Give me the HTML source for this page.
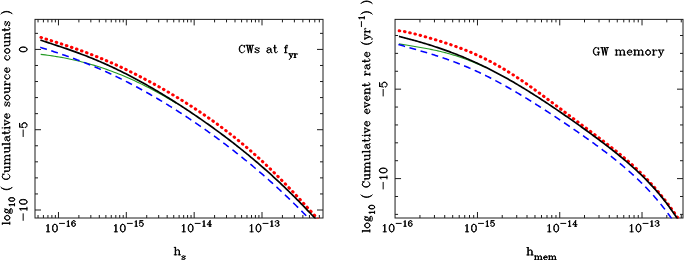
<!DOCTYPE html>
<html><head><meta charset="utf-8"><title>plot</title>
<style>html,body{margin:0;padding:0;background:#fff;font-family:"Liberation Serif",serif;}svg{display:block}</style></head>
<body>
<svg width="684" height="260" viewBox="0 0 684 260">
<rect width="684" height="260" fill="#fff"/>
<defs><clipPath id="cl"><rect x="35.00" y="19.38" width="288.00" height="199.12"/></clipPath><clipPath id="cr"><rect x="395.05" y="19.38" width="287.95" height="199.12"/></clipPath></defs>
<path d="M58.46 218.00v-6M58.46 19.38v6M126.31 218.00v-6M126.31 19.38v6M194.16 218.00v-6M194.16 19.38v6M262.01 218.00v-6M262.01 19.38v6M38.04 218.00v-3M38.04 19.38v3M43.41 218.00v-3M43.41 19.38v3M47.95 218.00v-3M47.95 19.38v3M51.88 218.00v-3M51.88 19.38v3M55.36 218.00v-3M55.36 19.38v3M78.88 218.00v-3M78.88 19.38v3M90.83 218.00v-3M90.83 19.38v3M99.31 218.00v-3M99.31 19.38v3M105.89 218.00v-3M105.89 19.38v3M111.26 218.00v-3M111.26 19.38v3M115.80 218.00v-3M115.80 19.38v3M119.73 218.00v-3M119.73 19.38v3M123.21 218.00v-3M123.21 19.38v3M146.73 218.00v-3M146.73 19.38v3M158.68 218.00v-3M158.68 19.38v3M167.16 218.00v-3M167.16 19.38v3M173.74 218.00v-3M173.74 19.38v3M179.11 218.00v-3M179.11 19.38v3M183.65 218.00v-3M183.65 19.38v3M187.58 218.00v-3M187.58 19.38v3M191.06 218.00v-3M191.06 19.38v3M214.58 218.00v-3M214.58 19.38v3M226.53 218.00v-3M226.53 19.38v3M235.01 218.00v-3M235.01 19.38v3M241.59 218.00v-3M241.59 19.38v3M246.96 218.00v-3M246.96 19.38v3M251.50 218.00v-3M251.50 19.38v3M255.43 218.00v-3M255.43 19.38v3M258.91 218.00v-3M258.91 19.38v3M282.43 218.00v-3M282.43 19.38v3M294.38 218.00v-3M294.38 19.38v3M302.86 218.00v-3M302.86 19.38v3M309.44 218.00v-3M309.44 19.38v3M314.81 218.00v-3M314.81 19.38v3M319.35 218.00v-3M319.35 19.38v3M35.00 49.42h6M323.00 49.42h-6M35.00 129.71h6M323.00 129.71h-6M35.00 210.00h6M323.00 210.00h-6M35.00 33.36h3M323.00 33.36h-3M35.00 65.48h3M323.00 65.48h-3M35.00 81.54h3M323.00 81.54h-3M35.00 97.59h3M323.00 97.59h-3M35.00 113.65h3M323.00 113.65h-3M35.00 145.77h3M323.00 145.77h-3M35.00 161.83h3M323.00 161.83h-3M35.00 177.88h3M323.00 177.88h-3M35.00 193.94h3M323.00 193.94h-3" stroke="#1c1c1c" stroke-width="1" fill="none"/>
<rect x="35.00" y="19.38" width="288.00" height="198.62" fill="none" stroke="#1c1c1c" stroke-width="1.0"/>
<path d="M477.46 218.00v-6M477.46 19.38v6M559.74 218.00v-6M559.74 19.38v6M642.02 218.00v-6M642.02 19.38v6M419.95 218.00v-3M419.95 19.38v3M434.44 218.00v-3M434.44 19.38v3M444.72 218.00v-3M444.72 19.38v3M452.69 218.00v-3M452.69 19.38v3M459.21 218.00v-3M459.21 19.38v3M464.71 218.00v-3M464.71 19.38v3M469.49 218.00v-3M469.49 19.38v3M473.70 218.00v-3M473.70 19.38v3M502.23 218.00v-3M502.23 19.38v3M516.72 218.00v-3M516.72 19.38v3M527.00 218.00v-3M527.00 19.38v3M534.97 218.00v-3M534.97 19.38v3M541.49 218.00v-3M541.49 19.38v3M546.99 218.00v-3M546.99 19.38v3M551.77 218.00v-3M551.77 19.38v3M555.98 218.00v-3M555.98 19.38v3M584.51 218.00v-3M584.51 19.38v3M599.00 218.00v-3M599.00 19.38v3M609.28 218.00v-3M609.28 19.38v3M617.25 218.00v-3M617.25 19.38v3M623.77 218.00v-3M623.77 19.38v3M629.27 218.00v-3M629.27 19.38v3M634.05 218.00v-3M634.05 19.38v3M638.26 218.00v-3M638.26 19.38v3M666.79 218.00v-3M666.79 19.38v3M681.28 218.00v-3M681.28 19.38v3M395.05 89.16h6M683.00 89.16h-6M395.05 178.60h6M683.00 178.60h-6M395.05 35.50h3M683.00 35.50h-3M395.05 53.38h3M683.00 53.38h-3M395.05 71.27h3M683.00 71.27h-3M395.05 107.05h3M683.00 107.05h-3M395.05 124.94h3M683.00 124.94h-3M395.05 142.82h3M683.00 142.82h-3M395.05 160.71h3M683.00 160.71h-3M395.05 196.49h3M683.00 196.49h-3M395.05 214.38h3M683.00 214.38h-3" stroke="#1c1c1c" stroke-width="1" fill="none"/>
<rect x="395.05" y="19.38" width="287.95" height="198.62" fill="none" stroke="#1c1c1c" stroke-width="1.0"/>
<g clip-path="url(#cl)" fill="none">
<path d="M40.70 54.37L42.99 54.64L45.29 54.92L47.58 55.21L49.87 55.53L52.17 55.87L54.46 56.22L56.75 56.59L59.05 56.98L61.34 57.39L63.63 57.82L65.93 58.26L68.22 58.73L70.51 59.21L72.81 59.71L75.10 60.23L77.39 60.77L79.68 61.33L81.98 61.91L84.27 62.51L86.56 63.13L88.86 63.77L91.15 64.43L93.44 65.11L95.74 65.81L98.03 66.53L100.32 67.27L102.62 68.03L104.91 68.81L107.20 69.61L109.50 70.43L111.79 71.28L114.08 72.14L116.38 73.02L118.67 73.93L120.96 74.86L123.26 75.80L125.55 76.77L127.84 77.76L130.14 78.77L132.43 79.80L134.72 80.85L137.02 81.93L139.31 83.02L141.60 84.13L143.89 85.26L146.19 86.42L148.48 87.59L150.77 88.79L153.07 90.00L155.36 91.23L157.65 92.48L159.95 93.75L162.24 95.04L164.53 96.35L166.83 97.68L169.12 99.02L171.41 100.38L173.71 101.76L176.00 103.16" stroke="#239a23" stroke-width="1.1"/>
<path d="M40.26 47.34L41.16 47.62L42.06 47.91L42.97 48.19L43.87 48.47L44.77 48.75L45.67 49.04L46.57 49.32L47.48 49.61L48.38 49.90L49.28 50.18L50.18 50.47L51.09 50.76L51.99 51.06L52.89 51.35L53.79 51.64L54.69 51.94L55.60 52.23L56.50 52.53L57.40 52.83L58.30 53.13L59.20 53.44L60.11 53.74L61.01 54.05L61.91 54.35L62.81 54.66L63.72 54.97L64.62 55.29L65.52 55.60L66.42 55.92L67.32 56.23L68.23 56.55L69.13 56.87L70.03 57.20L70.93 57.52L71.83 57.85L72.74 58.18L73.64 58.51L74.54 58.84L75.44 59.17L76.35 59.51L77.25 59.85L78.15 60.19L79.05 60.53L79.95 60.88L80.86 61.22L81.76 61.57L82.66 61.92L83.56 62.28L84.46 62.63L85.37 62.99L86.27 63.35L87.17 63.71L88.07 64.07L88.98 64.44L89.88 64.81L90.78 65.18L91.68 65.55L92.58 65.93L93.49 66.30L94.39 66.68L95.29 67.06L96.19 67.45L97.09 67.83L98.00 68.22L98.90 68.61L99.80 69.00L100.70 69.40L101.61 69.80L102.51 70.20L103.41 70.60L104.31 71.00L105.21 71.41L106.12 71.81L107.02 72.23L107.92 72.64L108.82 73.05L109.72 73.47L110.63 73.89L111.53 74.31L112.43 74.74L113.33 75.16L114.24 75.59L115.14 76.02L116.04 76.46L116.94 76.89L117.84 77.33L118.75 77.77L119.65 78.21L120.55 78.65L121.45 79.10L122.35 79.55L123.26 80.00L124.16 80.45L125.06 80.91L125.96 81.37L126.87 81.83L127.77 82.29L128.67 82.75L129.57 83.22L130.47 83.69L131.38 84.16L132.28 84.63L133.18 85.10L134.08 85.58L134.98 86.06L135.89 86.54L136.79 87.03L137.69 87.51L138.59 88.00L139.50 88.49L140.40 88.98L141.30 89.48L142.20 89.97L143.10 90.47L144.01 90.97L144.91 91.47L145.81 91.98L146.71 92.48L147.61 92.99L148.52 93.50L149.42 94.02L150.32 94.53L151.22 95.05L152.13 95.57L153.03 96.09L153.93 96.61L154.83 97.14L155.73 97.66L156.64 98.19L157.54 98.72L158.44 99.26L159.34 99.79L160.24 100.33L161.15 100.87L162.05 101.41L162.95 101.95L163.85 102.50L164.76 103.05L165.66 103.60L166.56 104.15L167.46 104.70L168.36 105.26L169.27 105.81L170.17 106.37L171.07 106.93L171.97 107.50L172.87 108.06L173.78 108.63L174.68 109.20L175.58 109.77L176.48 110.34L177.39 110.91L178.29 111.49L179.19 112.07L180.09 112.65L180.99 113.23L181.90 113.82L182.80 114.40L183.70 114.99L184.60 115.58L185.50 116.18L186.41 116.77L187.31 117.37L188.21 117.96L189.11 118.56L190.02 119.17L190.92 119.77L191.82 120.38L192.72 120.98L193.62 121.59L194.53 122.21L195.43 122.82L196.33 123.44L197.23 124.05L198.13 124.67L199.04 125.29L199.94 125.92L200.84 126.54L201.74 127.17L202.65 127.80L203.55 128.43L204.45 129.07L205.35 129.70L206.25 130.34L207.16 130.98L208.06 131.62L208.96 132.26L209.86 132.91L210.76 133.56L211.67 134.21L212.57 134.86L213.47 135.51L214.37 136.17L215.28 136.83L216.18 137.49L217.08 138.15L217.98 138.82L218.88 139.48L219.79 140.15L220.69 140.82L221.59 141.49L222.49 142.17L223.39 142.85L224.30 143.53L225.20 144.21L226.10 144.89L227.00 145.58L227.91 146.27L228.81 146.96L229.71 147.65L230.61 148.34L231.51 149.04L232.42 149.74L233.32 150.44L234.22 151.15L235.12 151.85L236.02 152.56L236.93 153.27L237.83 153.99L238.73 154.70L239.63 155.42L240.54 156.14L241.44 156.86L242.34 157.59L243.24 158.31L244.14 159.04L245.05 159.78L245.95 160.51L246.85 161.25L247.75 161.99L248.65 162.73L249.56 163.47L250.46 164.22L251.36 164.97L252.26 165.72L253.17 166.48L254.07 167.24L254.97 168.00L255.87 168.76L256.77 169.52L257.68 170.29L258.58 171.06L259.48 171.83L260.38 172.61L261.28 173.39L262.19 174.17L263.09 174.95L263.99 175.74L264.89 176.53L265.80 177.32L266.70 178.11L267.60 178.91L268.50 179.71L269.40 180.51L270.31 181.32L271.21 182.13L272.11 182.94L273.01 183.75L273.91 184.57L274.82 185.39L275.72 186.21L276.62 187.04L277.52 187.87L278.43 188.70L279.33 189.53L280.23 190.37L281.13 191.21L282.03 192.05L282.94 192.90L283.84 193.75L284.74 194.60L285.64 195.46L286.54 196.32L287.45 197.18L288.35 198.04L289.25 198.91L290.15 199.78L291.06 200.65L291.96 201.53L292.86 202.41L293.76 203.29L294.66 204.18L295.57 205.07L296.47 205.96L297.37 206.86L298.27 207.75L299.17 208.66L300.08 209.56L300.98 210.47L301.88 211.38L302.78 212.29L303.69 213.21L304.59 214.13L305.49 215.05L306.39 215.98L307.29 216.91L308.20 217.84L309.10 218.78L310.00 219.72" stroke="#0000ff" stroke-width="1.55" stroke-dasharray="6.89 4.64"/>
<path d="M40.94 37.44L41.87 37.74L42.80 38.04L43.72 38.33L44.65 38.62L45.58 38.92L46.50 39.21L47.43 39.50L48.36 39.80L49.28 40.09L50.21 40.38L51.14 40.67L52.06 40.97L52.99 41.26L53.92 41.55L54.84 41.85L55.77 42.14L56.70 42.44L57.62 42.73L58.55 43.03L59.48 43.33L60.40 43.62L61.33 43.92L62.26 44.23L63.18 44.53L64.11 44.83L65.04 45.14L65.96 45.44L66.89 45.75L67.82 46.06L68.74 46.37L69.67 46.68L70.60 46.99L71.52 47.31L72.45 47.63L73.38 47.94L74.30 48.26L75.23 48.59L76.16 48.91L77.08 49.24L78.01 49.56L78.94 49.89L79.86 50.23L80.79 50.56L81.72 50.90L82.64 51.23L83.57 51.57L84.49 51.92L85.42 52.26L86.35 52.61L87.27 52.96L88.20 53.31L89.13 53.66L90.05 54.02L90.98 54.37L91.91 54.73L92.83 55.10L93.76 55.46L94.69 55.83L95.61 56.20L96.54 56.57L97.47 56.94L98.39 57.32L99.32 57.70L100.25 58.08L101.17 58.46L102.10 58.84L103.03 59.23L103.95 59.62L104.88 60.01L105.81 60.41L106.73 60.80L107.66 61.20L108.59 61.60L109.51 62.01L110.44 62.41L111.37 62.82L112.29 63.23L113.22 63.65L114.15 64.06L115.07 64.48L116.00 64.90L116.93 65.32L117.85 65.75L118.78 66.17L119.71 66.60L120.63 67.03L121.56 67.47L122.49 67.90L123.41 68.34L124.34 68.78L125.27 69.22L126.19 69.67L127.12 70.11L128.05 70.56L128.97 71.01L129.90 71.47L130.83 71.92L131.75 72.38L132.68 72.84L133.61 73.30L134.53 73.77L135.46 74.23L136.38 74.70L137.31 75.17L138.24 75.65L139.16 76.12L140.09 76.60L141.02 77.08L141.94 77.56L142.87 78.04L143.80 78.53L144.72 79.02L145.65 79.51L146.58 80.00L147.50 80.49L148.43 80.99L149.36 81.49L150.28 81.99L151.21 82.49L152.14 82.99L153.06 83.50L153.99 84.01L154.92 84.52L155.84 85.03L156.77 85.55L157.70 86.07L158.62 86.58L159.55 87.11L160.48 87.63L161.40 88.15L162.33 88.68L163.26 89.21L164.18 89.74L165.11 90.28L166.04 90.81L166.96 91.35L167.89 91.89L168.82 92.43L169.74 92.98L170.67 93.53L171.60 94.07L172.52 94.63L173.45 95.18L174.38 95.73L175.30 96.29L176.23 96.85L177.16 97.41L178.08 97.98L179.01 98.55L179.94 99.12L180.86 99.69L181.79 100.26L182.72 100.84L183.64 101.41L184.57 102.00L185.50 102.58L186.42 103.16L187.35 103.75L188.27 104.34L189.20 104.93L190.13 105.53L191.05 106.13L191.98 106.73L192.91 107.33L193.83 107.93L194.76 108.54L195.69 109.15L196.61 109.77L197.54 110.38L198.47 111.00L199.39 111.62L200.32 112.24L201.25 112.87L202.17 113.50L203.10 114.13L204.03 114.76L204.95 115.40L205.88 116.04L206.81 116.68L207.73 117.33L208.66 117.98L209.59 118.63L210.51 119.29L211.44 119.94L212.37 120.60L213.29 121.27L214.22 121.93L215.15 122.60L216.07 123.28L217.00 123.95L217.93 124.63L218.85 125.31L219.78 126.00L220.71 126.69L221.63 127.38L222.56 128.08L223.49 128.78L224.41 129.48L225.34 130.18L226.27 130.89L227.19 131.61L228.12 132.32L229.05 133.04L229.97 133.76L230.90 134.49L231.83 135.22L232.75 135.95L233.68 136.69L234.61 137.43L235.53 138.18L236.46 138.92L237.39 139.68L238.31 140.43L239.24 141.19L240.16 141.95L241.09 142.72L242.02 143.49L242.94 144.27L243.87 145.05L244.80 145.83L245.72 146.61L246.65 147.40L247.58 148.20L248.50 149.00L249.43 149.80L250.36 150.60L251.28 151.41L252.21 152.23L253.14 153.05L254.06 153.87L254.99 154.69L255.92 155.52L256.84 156.36L257.77 157.19L258.70 158.04L259.62 158.88L260.55 159.73L261.48 160.59L262.40 161.45L263.33 162.31L264.26 163.17L265.18 164.04L266.11 164.92L267.04 165.80L267.96 166.68L268.89 167.57L269.82 168.46L270.74 169.35L271.67 170.25L272.60 171.15L273.52 172.06L274.45 172.97L275.38 173.88L276.30 174.80L277.23 175.72L278.16 176.64L279.08 177.57L280.01 178.51L280.94 179.44L281.86 180.38L282.79 181.33L283.72 182.27L284.64 183.22L285.57 184.18L286.50 185.14L287.42 186.10L288.35 187.06L289.28 188.03L290.20 189.00L291.13 189.97L292.05 190.95L292.98 191.93L293.91 192.91L294.83 193.90L295.76 194.89L296.69 195.88L297.61 196.87L298.54 197.87L299.47 198.86L300.39 199.86L301.32 200.87L302.25 201.87L303.17 202.88L304.10 203.89L305.03 204.90L305.95 205.91L306.88 206.92L307.81 207.94L308.73 208.96L309.66 209.97L310.59 210.99L311.51 212.01L312.44 213.03L313.37 214.05L314.29 215.08L315.22 216.10L316.15 217.12L317.07 218.14L318.00 219.16" stroke="#ff0000" stroke-width="3.0" stroke-linecap="round" stroke-dasharray="0.6 4.735"/>
<path d="M40.40 40.07L41.79 40.54L43.19 41.00L44.58 41.47L45.98 41.93L47.37 42.39L48.77 42.85L50.16 43.31L51.56 43.77L52.95 44.23L54.35 44.69L55.74 45.15L57.14 45.61L58.53 46.08L59.93 46.54L61.32 47.01L62.72 47.48L64.11 47.96L65.51 48.43L66.90 48.91L68.30 49.40L69.69 49.89L71.09 50.38L72.48 50.87L73.88 51.37L75.27 51.87L76.67 52.38L78.06 52.89L79.46 53.41L80.85 53.93L82.25 54.46L83.64 54.99L85.04 55.53L86.43 56.07L87.83 56.62L89.22 57.17L90.62 57.73L92.01 58.30L93.41 58.87L94.80 59.44L96.20 60.03L97.59 60.61L98.99 61.21L100.38 61.81L101.78 62.41L103.17 63.02L104.57 63.64L105.96 64.26L107.36 64.89L108.75 65.53L110.15 66.17L111.54 66.81L112.94 67.47L114.33 68.13L115.73 68.79L117.12 69.46L118.52 70.14L119.91 70.82L121.31 71.51L122.70 72.20L124.10 72.90L125.49 73.60L126.89 74.31L128.28 75.03L129.68 75.75L131.07 76.48L132.47 77.21L133.86 77.95L135.26 78.70L136.65 79.45L138.05 80.20L139.44 80.96L140.84 81.73L142.23 82.50L143.63 83.27L145.02 84.05L146.42 84.84L147.81 85.63L149.21 86.43L150.60 87.23L152.00 88.04L153.39 88.85L154.79 89.66L156.18 90.48L157.58 91.31L158.97 92.14L160.37 92.98L161.76 93.82L163.16 94.66L164.55 95.51L165.95 96.36L167.34 97.22L168.74 98.08L170.13 98.95L171.53 99.82L172.92 100.70L174.32 101.58L175.71 102.47L177.11 103.36L178.50 104.25L179.90 105.15L181.29 106.05L182.69 106.96L184.08 107.87L185.48 108.79L186.87 109.71L188.27 110.64L189.66 111.56L191.06 112.50L192.45 113.44L193.85 114.38L195.24 115.33L196.64 116.28L198.03 117.24L199.43 118.20L200.82 119.16L202.22 120.13L203.61 121.11L205.01 122.08L206.40 123.07L207.80 124.06L209.19 125.05L210.59 126.05L211.98 127.05L213.38 128.06L214.77 129.07L216.17 130.09L217.56 131.11L218.96 132.14L220.35 133.17L221.75 134.20L223.14 135.25L224.54 136.29L225.93 137.35L227.33 138.41L228.72 139.47L230.12 140.54L231.51 141.61L232.91 142.69L234.30 143.78L235.70 144.87L237.09 145.97L238.49 147.07L239.88 148.18L241.28 149.30L242.67 150.42L244.07 151.55L245.46 152.68L246.86 153.82L248.25 154.96L249.65 156.12L251.04 157.28L252.44 158.44L253.83 159.61L255.23 160.79L256.62 161.98L258.02 163.17L259.41 164.37L260.81 165.58L262.20 166.79L263.60 168.01L264.99 169.24L266.39 170.48L267.78 171.72L269.18 172.97L270.57 174.22L271.97 175.49L273.36 176.76L274.76 178.04L276.15 179.33L277.55 180.62L278.94 181.92L280.34 183.23L281.73 184.55L283.13 185.88L284.52 187.21L285.92 188.55L287.31 189.90L288.71 191.25L290.10 192.62L291.50 193.99L292.89 195.37L294.29 196.76L295.68 198.15L297.08 199.55L298.47 200.96L299.87 202.38L301.26 203.81L302.66 205.24L304.05 206.68L305.45 208.13L306.84 209.58L308.24 211.04L309.63 212.51L311.03 213.99L312.42 215.47L313.82 216.96L315.21 218.46L316.61 219.96L318.00 221.47" stroke="#000" stroke-width="1.7"/>
</g>
<g clip-path="url(#cr)" fill="none">
<path d="M398.96 43.85L400.40 44.10L401.84 44.34L403.28 44.59L404.73 44.83L406.17 45.07L407.61 45.31L409.05 45.54L410.49 45.78L411.93 46.02L413.37 46.25L414.81 46.49L416.26 46.73L417.70 46.97L419.14 47.22L420.58 47.46L422.02 47.72L423.46 47.97L424.90 48.23L426.35 48.50L427.79 48.77L429.23 49.05L430.67 49.34L432.11 49.63L433.55 49.93L434.99 50.24L436.44 50.56L437.88 50.88L439.32 51.22L440.76 51.56L442.20 51.92L443.64 52.28L445.08 52.65L446.52 53.04L447.97 53.43L449.41 53.84L450.85 54.25L452.29 54.68L453.73 55.12L455.17 55.57L456.61 56.03L458.06 56.50L459.50 56.98L460.94 57.47L462.38 57.98L463.82 58.49L465.26 59.02L466.70 59.55L468.15 60.10L469.59 60.66L471.03 61.23L472.47 61.81L473.91 62.40L475.35 63.00L476.79 63.62L478.23 64.24L479.68 64.87L481.12 65.51L482.56 66.16L484.00 66.83" stroke="#239a23" stroke-width="1.1"/>
<path d="M398.42 44.43L399.35 44.72L400.27 45.00L401.20 45.28L402.12 45.56L403.05 45.84L403.97 46.12L404.90 46.39L405.82 46.66L406.75 46.93L407.67 47.20L408.60 47.47L409.52 47.74L410.45 48.01L411.37 48.27L412.30 48.54L413.22 48.81L414.15 49.07L415.07 49.34L416.00 49.60L416.92 49.87L417.85 50.13L418.77 50.40L419.70 50.67L420.62 50.94L421.55 51.21L422.47 51.47L423.40 51.75L424.32 52.02L425.25 52.29L426.17 52.56L427.10 52.84L428.02 53.12L428.95 53.40L429.87 53.68L430.80 53.96L431.72 54.24L432.65 54.53L433.57 54.82L434.50 55.11L435.42 55.40L436.35 55.69L437.27 55.99L438.20 56.29L439.12 56.59L440.05 56.89L440.97 57.20L441.90 57.51L442.82 57.82L443.75 58.13L444.67 58.45L445.60 58.77L446.52 59.09L447.45 59.41L448.37 59.74L449.30 60.07L450.22 60.41L451.15 60.74L452.07 61.08L453.00 61.42L453.92 61.77L454.85 62.12L455.77 62.47L456.70 62.82L457.62 63.18L458.55 63.54L459.47 63.91L460.40 64.28L461.32 64.65L462.25 65.02L463.17 65.40L464.10 65.78L465.02 66.16L465.95 66.55L466.87 66.94L467.80 67.33L468.72 67.73L469.65 68.13L470.57 68.53L471.50 68.94L472.42 69.35L473.35 69.76L474.27 70.18L475.20 70.60L476.12 71.02L477.05 71.45L477.97 71.88L478.90 72.31L479.82 72.75L480.75 73.19L481.67 73.63L482.60 74.08L483.52 74.52L484.45 74.98L485.37 75.43L486.30 75.89L487.22 76.35L488.15 76.81L489.07 77.28L490.00 77.75L490.92 78.23L491.85 78.70L492.77 79.18L493.70 79.66L494.62 80.15L495.55 80.64L496.47 81.13L497.40 81.62L498.32 82.12L499.25 82.61L500.17 83.12L501.10 83.62L502.02 84.13L502.95 84.64L503.87 85.15L504.80 85.66L505.72 86.18L506.65 86.70L507.57 87.22L508.50 87.75L509.42 88.28L510.35 88.81L511.27 89.34L512.20 89.87L513.12 90.41L514.05 90.95L514.97 91.49L515.90 92.03L516.82 92.58L517.75 93.13L518.67 93.68L519.60 94.23L520.52 94.78L521.45 95.34L522.37 95.89L523.30 96.45L524.22 97.02L525.15 97.58L526.07 98.15L527.00 98.71L527.92 99.28L528.85 99.85L529.77 100.42L530.70 101.00L531.62 101.57L532.55 102.15L533.47 102.73L534.40 103.31L535.32 103.89L536.25 104.48L537.17 105.06L538.10 105.65L539.02 106.24L539.95 106.83L540.87 107.42L541.80 108.01L542.72 108.61L543.65 109.20L544.57 109.80L545.50 110.40L546.42 111.00L547.35 111.60L548.27 112.20L549.20 112.80L550.12 113.41L551.05 114.01L551.97 114.62L552.90 115.23L553.82 115.84L554.75 116.45L555.67 117.06L556.60 117.67L557.52 118.29L558.45 118.90L559.37 119.52L560.30 120.14L561.22 120.76L562.15 121.37L563.07 122.00L564.00 122.62L564.92 123.24L565.85 123.87L566.77 124.49L567.70 125.12L568.62 125.75L569.55 126.38L570.47 127.01L571.40 127.64L572.32 128.27L573.25 128.91L574.17 129.54L575.10 130.18L576.02 130.82L576.95 131.46L577.87 132.10L578.80 132.74L579.72 133.38L580.65 134.03L581.57 134.68L582.50 135.32L583.42 135.97L584.35 136.62L585.27 137.28L586.20 137.93L587.12 138.59L588.05 139.25L588.97 139.91L589.90 140.57L590.82 141.23L591.75 141.90L592.67 142.57L593.60 143.24L594.52 143.91L595.45 144.58L596.37 145.26L597.30 145.94L598.22 146.62L599.15 147.30L600.07 147.99L601.00 148.68L601.92 149.37L602.85 150.06L603.77 150.76L604.70 151.46L605.62 152.16L606.55 152.87L607.47 153.58L608.40 154.29L609.32 155.01L610.25 155.73L611.17 156.45L612.10 157.18L613.02 157.91L613.95 158.64L614.87 159.38L615.80 160.12L616.72 160.87L617.65 161.62L618.57 162.38L619.50 163.14L620.42 163.90L621.35 164.67L622.27 165.44L623.20 166.22L624.12 167.01L625.05 167.80L625.97 168.59L626.90 169.40L627.82 170.20L628.75 171.02L629.67 171.84L630.60 172.66L631.52 173.49L632.45 174.33L633.37 175.18L634.30 176.03L635.22 176.89L636.15 177.76L637.07 178.63L638.00 179.51L638.92 180.40L639.85 181.30L640.77 182.20L641.70 183.12L642.62 184.04L643.55 184.97L644.47 185.91L645.40 186.86L646.32 187.82L647.25 188.79L648.17 189.77L649.10 190.75L650.02 191.75L650.95 192.76L651.87 193.78L652.80 194.81L653.72 195.85L654.65 196.91L655.57 197.97L656.50 199.05L657.42 200.14L658.35 201.24L659.27 202.35L660.20 203.48L661.12 204.62L662.05 205.77L662.97 206.94L663.90 208.12L664.82 209.31L665.75 210.52L666.67 211.75L667.60 212.99L668.52 214.24L669.45 215.51L670.37 216.80L671.30 218.10L672.22 219.42L673.15 220.76L674.07 222.11L675.00 223.48" stroke="#0000ff" stroke-width="1.55" stroke-dasharray="6.89 4.63"/>
<path d="M399.20 30.78L400.15 30.91L401.09 31.05L402.03 31.20L402.97 31.36L403.92 31.53L404.86 31.70L405.80 31.89L406.74 32.08L407.68 32.27L408.63 32.47L409.57 32.68L410.51 32.90L411.45 33.11L412.40 33.34L413.34 33.57L414.28 33.80L415.22 34.03L416.17 34.27L417.11 34.52L418.05 34.76L418.99 35.01L419.94 35.27L420.88 35.52L421.82 35.78L422.76 36.04L423.71 36.31L424.65 36.57L425.59 36.84L426.53 37.11L427.48 37.38L428.42 37.65L429.36 37.93L430.30 38.21L431.25 38.49L432.19 38.77L433.13 39.05L434.07 39.34L435.02 39.62L435.96 39.91L436.90 40.20L437.84 40.49L438.79 40.79L439.73 41.08L440.67 41.38L441.61 41.68L442.56 41.98L443.50 42.29L444.44 42.59L445.38 42.90L446.33 43.21L447.27 43.53L448.21 43.84L449.15 44.16L450.10 44.48L451.04 44.80L451.98 45.13L452.92 45.45L453.87 45.79L454.81 46.12L455.75 46.46L456.69 46.80L457.64 47.14L458.58 47.48L459.52 47.83L460.46 48.19L461.41 48.54L462.35 48.90L463.29 49.27L464.23 49.63L465.18 50.00L466.12 50.38L467.06 50.76L468.00 51.14L468.95 51.52L469.89 51.91L470.83 52.31L471.77 52.71L472.72 53.11L473.66 53.52L474.60 53.93L475.54 54.35L476.48 54.77L477.43 55.19L478.37 55.62L479.31 56.06L480.25 56.50L481.20 56.94L482.14 57.39L483.08 57.84L484.02 58.30L484.97 58.76L485.91 59.23L486.85 59.71L487.79 60.18L488.74 60.67L489.68 61.15L490.62 61.65L491.56 62.14L492.51 62.65L493.45 63.15L494.39 63.67L495.33 64.18L496.28 64.71L497.22 65.23L498.16 65.77L499.10 66.30L500.05 66.85L500.99 67.39L501.93 67.94L502.87 68.50L503.82 69.06L504.76 69.63L505.70 70.20L506.64 70.77L507.59 71.35L508.53 71.93L509.47 72.52L510.41 73.12L511.36 73.71L512.30 74.31L513.24 74.92L514.18 75.53L515.13 76.14L516.07 76.76L517.01 77.38L517.95 78.01L518.90 78.64L519.84 79.27L520.78 79.91L521.72 80.55L522.67 81.19L523.61 81.84L524.55 82.49L525.49 83.15L526.44 83.80L527.38 84.46L528.32 85.13L529.26 85.79L530.21 86.46L531.15 87.13L532.09 87.81L533.03 88.48L533.98 89.16L534.92 89.84L535.86 90.53L536.80 91.21L537.75 91.90L538.69 92.59L539.63 93.28L540.57 93.98L541.52 94.67L542.46 95.37L543.40 96.07L544.34 96.77L545.28 97.47L546.23 98.17L547.17 98.87L548.11 99.58L549.05 100.28L550.00 100.99L550.94 101.70L551.88 102.40L552.82 103.11L553.77 103.82L554.71 104.53L555.65 105.24L556.59 105.96L557.54 106.67L558.48 107.38L559.42 108.09L560.36 108.80L561.31 109.51L562.25 110.23L563.19 110.94L564.13 111.65L565.08 112.36L566.02 113.08L566.96 113.79L567.90 114.50L568.85 115.21L569.79 115.92L570.73 116.63L571.67 117.34L572.62 118.05L573.56 118.76L574.50 119.47L575.44 120.18L576.39 120.89L577.33 121.60L578.27 122.31L579.21 123.02L580.16 123.73L581.10 124.43L582.04 125.14L582.98 125.85L583.93 126.56L584.87 127.26L585.81 127.97L586.75 128.68L587.70 129.39L588.64 130.09L589.58 130.80L590.52 131.51L591.47 132.22L592.41 132.92L593.35 133.63L594.29 134.34L595.24 135.05L596.18 135.76L597.12 136.47L598.06 137.19L599.01 137.90L599.95 138.61L600.89 139.33L601.83 140.05L602.78 140.77L603.72 141.49L604.66 142.21L605.60 142.93L606.55 143.66L607.49 144.39L608.43 145.12L609.37 145.85L610.32 146.59L611.26 147.32L612.20 148.06L613.14 148.81L614.08 149.56L615.03 150.31L615.97 151.06L616.91 151.82L617.85 152.58L618.80 153.35L619.74 154.12L620.68 154.90L621.62 155.68L622.57 156.46L623.51 157.26L624.45 158.05L625.39 158.85L626.34 159.66L627.28 160.48L628.22 161.29L629.16 162.12L630.11 162.95L631.05 163.79L631.99 164.64L632.93 165.49L633.88 166.36L634.82 167.22L635.76 168.10L636.70 168.99L637.65 169.88L638.59 170.78L639.53 171.69L640.47 172.61L641.42 173.54L642.36 174.48L643.30 175.42L644.24 176.38L645.19 177.35L646.13 178.32L647.07 179.31L648.01 180.31L648.96 181.31L649.90 182.33L650.84 183.36L651.78 184.40L652.73 185.45L653.67 186.51L654.61 187.58L655.55 188.67L656.50 189.76L657.44 190.87L658.38 191.99L659.32 193.12L660.27 194.27L661.21 195.42L662.15 196.59L663.09 197.77L664.04 198.96L664.98 200.16L665.92 201.38L666.86 202.60L667.81 203.84L668.75 205.10L669.69 206.36L670.63 207.63L671.58 208.92L672.52 210.22L673.46 211.53L674.40 212.85L675.35 214.18L676.29 215.52L677.23 216.87L678.17 218.24L679.12 219.61L680.06 220.99L681.00 222.39" stroke="#ff0000" stroke-width="3.0" stroke-linecap="round" stroke-dasharray="0.6 4.734"/>
<path d="M398.96 36.40L400.38 36.76L401.79 37.11L403.21 37.47L404.63 37.84L406.05 38.21L407.46 38.58L408.88 38.96L410.30 39.34L411.72 39.72L413.13 40.11L414.55 40.50L415.97 40.90L417.38 41.30L418.80 41.70L420.22 42.11L421.64 42.53L423.05 42.95L424.47 43.37L425.89 43.80L427.31 44.23L428.72 44.67L430.14 45.11L431.56 45.56L432.97 46.02L434.39 46.48L435.81 46.94L437.23 47.41L438.64 47.89L440.06 48.37L441.48 48.86L442.90 49.35L444.31 49.85L445.73 50.35L447.15 50.86L448.57 51.38L449.98 51.90L451.40 52.43L452.82 52.97L454.23 53.51L455.65 54.06L457.07 54.61L458.49 55.17L459.90 55.74L461.32 56.32L462.74 56.90L464.16 57.49L465.57 58.08L466.99 58.68L468.41 59.29L469.82 59.91L471.24 60.53L472.66 61.16L474.08 61.79L475.49 62.44L476.91 63.09L478.33 63.74L479.75 64.41L481.16 65.08L482.58 65.75L484.00 66.44L485.41 67.13L486.83 67.83L488.25 68.53L489.67 69.24L491.08 69.96L492.50 70.69L493.92 71.42L495.34 72.16L496.75 72.91L498.17 73.66L499.59 74.42L501.00 75.18L502.42 75.95L503.84 76.73L505.26 77.52L506.67 78.31L508.09 79.11L509.51 79.91L510.93 80.72L512.34 81.54L513.76 82.36L515.18 83.19L516.59 84.02L518.01 84.86L519.43 85.70L520.85 86.55L522.26 87.41L523.68 88.27L525.10 89.14L526.52 90.01L527.93 90.89L529.35 91.77L530.77 92.66L532.18 93.55L533.60 94.45L535.02 95.35L536.44 96.25L537.85 97.16L539.27 98.08L540.69 99.00L542.11 99.92L543.52 100.85L544.94 101.78L546.36 102.72L547.78 103.66L549.19 104.60L550.61 105.55L552.03 106.50L553.44 107.45L554.86 108.41L556.28 109.37L557.70 110.33L559.11 111.30L560.53 112.27L561.95 113.25L563.37 114.22L564.78 115.20L566.20 116.19L567.62 117.17L569.03 118.16L570.45 119.15L571.87 120.15L573.29 121.15L574.70 122.15L576.12 123.15L577.54 124.16L578.96 125.17L580.37 126.18L581.79 127.20L583.21 128.21L584.62 129.24L586.04 130.26L587.46 131.29L588.88 132.32L590.29 133.36L591.71 134.40L593.13 135.44L594.55 136.49L595.96 137.54L597.38 138.59L598.80 139.65L600.21 140.71L601.63 141.78L603.05 142.85L604.47 143.93L605.88 145.02L607.30 146.11L608.72 147.20L610.14 148.30L611.55 149.41L612.97 150.53L614.39 151.65L615.80 152.78L617.22 153.92L618.64 155.06L620.06 156.22L621.47 157.38L622.89 158.56L624.31 159.74L625.73 160.94L627.14 162.15L628.56 163.36L629.98 164.60L631.39 165.84L632.81 167.10L634.23 168.37L635.65 169.66L637.06 170.96L638.48 172.28L639.90 173.62L641.32 174.98L642.73 176.35L644.15 177.75L645.57 179.16L646.99 180.60L648.40 182.06L649.82 183.54L651.24 185.05L652.65 186.58L654.07 188.14L655.49 189.73L656.91 191.34L658.32 192.99L659.74 194.67L661.16 196.38L662.58 198.12L663.99 199.90L665.41 201.72L666.83 203.57L668.24 205.47L669.66 207.40L671.08 209.38L672.50 211.40L673.91 213.47L675.33 215.58L676.75 217.74L678.17 219.96L679.58 222.23L681.00 224.55" stroke="#000" stroke-width="1.7"/>
</g>
<g fill="none" stroke="#000" stroke-width="1.0" stroke-linecap="round" stroke-linejoin="round"><path d="M46.48 225.80L47.18 225.45L48.24 224.39L48.24 231.80M47.89 224.74L47.89 231.80M46.48 231.80L49.66 231.80M54.60 224.39L53.54 224.74L52.83 225.80L52.48 227.56L52.48 228.62L52.83 230.39L53.54 231.45L54.60 231.80L55.30 231.80L56.36 231.45L57.07 230.39L57.42 228.62L57.42 227.56L57.07 225.80L56.36 224.74L55.30 224.39L54.60 224.39M54.60 224.39L53.89 224.74L53.54 225.09L53.19 225.80L52.83 227.56L52.83 228.62L53.19 230.39L53.54 231.09L53.89 231.45L54.60 231.80M55.30 231.80L56.01 231.45L56.36 231.09L56.72 230.39L57.07 228.62L57.07 227.56L56.72 225.80L56.36 225.09L56.01 224.74L55.30 224.39M59.45 223.41L64.53 223.41M67.12 221.71L67.66 221.44L68.47 220.63L68.47 226.30M68.20 220.90L68.20 226.30M67.12 226.30L69.55 226.30M74.95 221.44L74.68 221.71L74.95 221.98L75.22 221.71L75.22 221.44L74.95 220.90L74.41 220.63L73.60 220.63L72.79 220.90L72.25 221.44L71.98 221.98L71.71 223.06L71.71 224.68L71.98 225.49L72.52 226.03L73.33 226.30L73.87 226.30L74.68 226.03L75.22 225.49L75.49 224.68L75.49 224.41L75.22 223.60L74.68 223.06L73.87 222.79L73.60 222.79L72.79 223.06L72.25 223.60L71.98 224.41M73.60 220.63L73.06 220.90L72.52 221.44L72.25 221.98L71.98 223.06L71.98 224.68L72.25 225.49L72.79 226.03L73.33 226.30M73.87 226.30L74.41 226.03L74.95 225.49L75.22 224.68L75.22 224.41L74.95 223.60L74.41 223.06L73.87 222.79"/>
<path d="M383.20 225.80L383.90 225.45L384.96 224.39L384.96 231.80M384.61 224.74L384.61 231.80M383.20 231.80L386.38 231.80M391.32 224.39L390.26 224.74L389.55 225.80L389.20 227.56L389.20 228.62L389.55 230.39L390.26 231.45L391.32 231.80L392.02 231.80L393.08 231.45L393.79 230.39L394.14 228.62L394.14 227.56L393.79 225.80L393.08 224.74L392.02 224.39L391.32 224.39M391.32 224.39L390.61 224.74L390.26 225.09L389.90 225.80L389.55 227.56L389.55 228.62L389.90 230.39L390.26 231.09L390.61 231.45L391.32 231.80M392.02 231.80L392.73 231.45L393.08 231.09L393.44 230.39L393.79 228.62L393.79 227.56L393.44 225.80L393.08 225.09L392.73 224.74L392.02 224.39M396.17 223.41L401.25 223.41M403.84 221.71L404.38 221.44L405.19 220.63L405.19 226.30M404.92 220.90L404.92 226.30M403.84 226.30L406.27 226.30M411.67 221.44L411.40 221.71L411.67 221.98L411.94 221.71L411.94 221.44L411.67 220.90L411.13 220.63L410.32 220.63L409.51 220.90L408.97 221.44L408.70 221.98L408.43 223.06L408.43 224.68L408.70 225.49L409.24 226.03L410.05 226.30L410.59 226.30L411.40 226.03L411.94 225.49L412.21 224.68L412.21 224.41L411.94 223.60L411.40 223.06L410.59 222.79L410.32 222.79L409.51 223.06L408.97 223.60L408.70 224.41M410.32 220.63L409.78 220.90L409.24 221.44L408.97 221.98L408.70 223.06L408.70 224.68L408.97 225.49L409.51 226.03L410.05 226.30M410.59 226.30L411.13 226.03L411.67 225.49L411.94 224.68L411.94 224.41L411.67 223.60L411.13 223.06L410.59 222.79"/>
<path d="M114.33 225.80L115.03 225.45L116.09 224.39L116.09 231.80M115.74 224.74L115.74 231.80M114.33 231.80L117.51 231.80M122.45 224.39L121.39 224.74L120.68 225.80L120.33 227.56L120.33 228.62L120.68 230.39L121.39 231.45L122.45 231.80L123.15 231.80L124.21 231.45L124.92 230.39L125.27 228.62L125.27 227.56L124.92 225.80L124.21 224.74L123.15 224.39L122.45 224.39M122.45 224.39L121.74 224.74L121.39 225.09L121.04 225.80L120.68 227.56L120.68 228.62L121.04 230.39L121.39 231.09L121.74 231.45L122.45 231.80M123.15 231.80L123.86 231.45L124.21 231.09L124.57 230.39L124.92 228.62L124.92 227.56L124.57 225.80L124.21 225.09L123.86 224.74L123.15 224.39M127.30 223.41L132.38 223.41M134.97 221.71L135.51 221.44L136.32 220.63L136.32 226.30M136.05 220.90L136.05 226.30M134.97 226.30L137.40 226.30M140.10 220.63L139.56 223.33M139.56 223.33L140.10 222.79L140.91 222.52L141.72 222.52L142.53 222.79L143.07 223.33L143.34 224.14L143.34 224.68L143.07 225.49L142.53 226.03L141.72 226.30L140.91 226.30L140.10 226.03L139.83 225.76L139.56 225.22L139.56 224.95L139.83 224.68L140.10 224.95L139.83 225.22M141.72 222.52L142.26 222.79L142.80 223.33L143.07 224.14L143.07 224.68L142.80 225.49L142.26 226.03L141.72 226.30M140.10 220.63L142.80 220.63M140.10 220.90L141.45 220.90L142.80 220.63"/>
<path d="M465.48 225.80L466.18 225.45L467.24 224.39L467.24 231.80M466.89 224.74L466.89 231.80M465.48 231.80L468.66 231.80M473.60 224.39L472.54 224.74L471.83 225.80L471.48 227.56L471.48 228.62L471.83 230.39L472.54 231.45L473.60 231.80L474.30 231.80L475.36 231.45L476.07 230.39L476.42 228.62L476.42 227.56L476.07 225.80L475.36 224.74L474.30 224.39L473.60 224.39M473.60 224.39L472.89 224.74L472.54 225.09L472.19 225.80L471.83 227.56L471.83 228.62L472.19 230.39L472.54 231.09L472.89 231.45L473.60 231.80M474.30 231.80L475.01 231.45L475.36 231.09L475.72 230.39L476.07 228.62L476.07 227.56L475.72 225.80L475.36 225.09L475.01 224.74L474.30 224.39M478.45 223.41L483.53 223.41M486.12 221.71L486.66 221.44L487.47 220.63L487.47 226.30M487.20 220.90L487.20 226.30M486.12 226.30L488.55 226.30M491.25 220.63L490.71 223.33M490.71 223.33L491.25 222.79L492.06 222.52L492.87 222.52L493.68 222.79L494.22 223.33L494.49 224.14L494.49 224.68L494.22 225.49L493.68 226.03L492.87 226.30L492.06 226.30L491.25 226.03L490.98 225.76L490.71 225.22L490.71 224.95L490.98 224.68L491.25 224.95L490.98 225.22M492.87 222.52L493.41 222.79L493.95 223.33L494.22 224.14L494.22 224.68L493.95 225.49L493.41 226.03L492.87 226.30M491.25 220.63L493.95 220.63M491.25 220.90L492.60 220.90L493.95 220.63"/>
<path d="M182.18 225.80L182.88 225.45L183.94 224.39L183.94 231.80M183.59 224.74L183.59 231.80M182.18 231.80L185.35 231.80M190.30 224.39L189.24 224.74L188.53 225.80L188.18 227.56L188.18 228.62L188.53 230.39L189.24 231.45L190.30 231.80L191.00 231.80L192.06 231.45L192.77 230.39L193.12 228.62L193.12 227.56L192.77 225.80L192.06 224.74L191.00 224.39L190.30 224.39M190.30 224.39L189.59 224.74L189.24 225.09L188.88 225.80L188.53 227.56L188.53 228.62L188.88 230.39L189.24 231.09L189.59 231.45L190.30 231.80M191.00 231.80L191.71 231.45L192.06 231.09L192.41 230.39L192.77 228.62L192.77 227.56L192.41 225.80L192.06 225.09L191.71 224.74L191.00 224.39M195.15 223.41L200.23 223.41M202.82 221.71L203.36 221.44L204.17 220.63L204.17 226.30M203.90 220.90L203.90 226.30M202.82 226.30L205.25 226.30M209.84 221.17L209.84 226.30M210.11 220.63L210.11 226.30M210.11 220.63L207.14 224.68L211.46 224.68M209.03 226.30L210.92 226.30"/>
<path d="M547.76 225.80L548.46 225.45L549.52 224.39L549.52 231.80M549.17 224.74L549.17 231.80M547.76 231.80L550.93 231.80M555.88 224.39L554.82 224.74L554.11 225.80L553.76 227.56L553.76 228.62L554.11 230.39L554.82 231.45L555.88 231.80L556.58 231.80L557.64 231.45L558.35 230.39L558.70 228.62L558.70 227.56L558.35 225.80L557.64 224.74L556.58 224.39L555.88 224.39M555.88 224.39L555.17 224.74L554.82 225.09L554.47 225.80L554.11 227.56L554.11 228.62L554.47 230.39L554.82 231.09L555.17 231.45L555.88 231.80M556.58 231.80L557.29 231.45L557.64 231.09L558.00 230.39L558.35 228.62L558.35 227.56L558.00 225.80L557.64 225.09L557.29 224.74L556.58 224.39M560.73 223.41L565.81 223.41M568.40 221.71L568.94 221.44L569.75 220.63L569.75 226.30M569.48 220.90L569.48 226.30M568.40 226.30L570.83 226.30M575.42 221.17L575.42 226.30M575.69 220.63L575.69 226.30M575.69 220.63L572.72 224.68L577.04 224.68M574.61 226.30L576.50 226.30"/>
<path d="M250.03 225.80L250.73 225.45L251.79 224.39L251.79 231.80M251.44 224.74L251.44 231.80M250.03 231.80L253.20 231.80M258.15 224.39L257.09 224.74L256.38 225.80L256.03 227.56L256.03 228.62L256.38 230.39L257.09 231.45L258.15 231.80L258.85 231.80L259.91 231.45L260.62 230.39L260.97 228.62L260.97 227.56L260.62 225.80L259.91 224.74L258.85 224.39L258.15 224.39M258.15 224.39L257.44 224.74L257.09 225.09L256.74 225.80L256.38 227.56L256.38 228.62L256.74 230.39L257.09 231.09L257.44 231.45L258.15 231.80M258.85 231.80L259.56 231.45L259.91 231.09L260.26 230.39L260.62 228.62L260.62 227.56L260.26 225.80L259.91 225.09L259.56 224.74L258.85 224.39M263.00 223.41L268.08 223.41M270.67 221.71L271.21 221.44L272.02 220.63L272.02 226.30M271.75 220.90L271.75 226.30M270.67 226.30L273.10 226.30M275.53 221.71L275.80 221.98L275.53 222.25L275.26 221.98L275.26 221.71L275.53 221.17L275.80 220.90L276.61 220.63L277.69 220.63L278.50 220.90L278.77 221.44L278.77 222.25L278.50 222.79L277.69 223.06L276.88 223.06M277.69 220.63L278.23 220.90L278.50 221.44L278.50 222.25L278.23 222.79L277.69 223.06M277.69 223.06L278.23 223.33L278.77 223.87L279.04 224.41L279.04 225.22L278.77 225.76L278.50 226.03L277.69 226.30L276.61 226.30L275.80 226.03L275.53 225.76L275.26 225.22L275.26 224.95L275.53 224.68L275.80 224.95L275.53 225.22M278.50 223.60L278.77 224.41L278.77 225.22L278.50 225.76L278.23 226.03L277.69 226.30"/>
<path d="M630.04 225.80L630.74 225.45L631.80 224.39L631.80 231.80M631.45 224.74L631.45 231.80M630.04 231.80L633.21 231.80M638.16 224.39L637.10 224.74L636.39 225.80L636.04 227.56L636.04 228.62L636.39 230.39L637.10 231.45L638.16 231.80L638.86 231.80L639.92 231.45L640.63 230.39L640.98 228.62L640.98 227.56L640.63 225.80L639.92 224.74L638.86 224.39L638.16 224.39M638.16 224.39L637.45 224.74L637.10 225.09L636.75 225.80L636.39 227.56L636.39 228.62L636.75 230.39L637.10 231.09L637.45 231.45L638.16 231.80M638.86 231.80L639.57 231.45L639.92 231.09L640.27 230.39L640.63 228.62L640.63 227.56L640.27 225.80L639.92 225.09L639.57 224.74L638.86 224.39M643.01 223.41L648.09 223.41M650.68 221.71L651.22 221.44L652.03 220.63L652.03 226.30M651.76 220.90L651.76 226.30M650.68 226.30L653.11 226.30M655.54 221.71L655.81 221.98L655.54 222.25L655.27 221.98L655.27 221.71L655.54 221.17L655.81 220.90L656.62 220.63L657.70 220.63L658.51 220.90L658.78 221.44L658.78 222.25L658.51 222.79L657.70 223.06L656.89 223.06M657.70 220.63L658.24 220.90L658.51 221.44L658.51 222.25L658.24 222.79L657.70 223.06M657.70 223.06L658.24 223.33L658.78 223.87L659.05 224.41L659.05 225.22L658.78 225.76L658.51 226.03L657.70 226.30L656.62 226.30L655.81 226.03L655.54 225.76L655.27 225.22L655.27 224.95L655.54 224.68L655.81 224.95L655.54 225.22M658.51 223.60L658.78 224.41L658.78 225.22L658.51 225.76L658.24 226.03L657.70 226.30"/>
<path d="M19.54 49.77L19.89 50.83L20.95 51.54L22.71 51.89L23.77 51.89L25.54 51.54L26.60 50.83L26.95 49.77L26.95 49.07L26.60 48.01L25.54 47.30L23.77 46.95L22.71 46.95L20.95 47.30L19.89 48.01L19.54 49.07L19.54 49.77M19.54 49.77L19.89 50.48L20.24 50.83L20.95 51.19L22.71 51.54L23.77 51.54L25.54 51.19L26.24 50.83L26.60 50.48L26.95 49.77M26.95 49.07L26.60 48.36L26.24 48.01L25.54 47.66L23.77 47.30L22.71 47.30L20.95 47.66L20.24 48.01L19.89 48.36L19.54 49.07"/>
<path d="M23.17 136.56L23.17 129.92M19.54 126.89L23.07 127.59M23.07 127.59L22.36 126.89L22.01 125.83L22.01 124.77L22.36 123.71L23.07 123.00L24.13 122.65L24.83 122.65L25.89 123.00L26.60 123.71L26.95 124.77L26.95 125.83L26.60 126.89L26.24 127.24L25.54 127.59L25.18 127.59L24.83 127.24L25.18 126.89L25.54 127.24M22.01 124.77L22.36 124.06L23.07 123.36L24.13 123.00L24.83 123.00L25.89 123.36L26.60 124.06L26.95 124.77M19.54 126.89L19.54 123.36M19.89 126.89L19.89 125.12L19.54 123.36"/>
<path d="M23.17 220.38L23.17 213.74M20.95 210.35L20.60 209.65L19.54 208.59L26.95 208.59M19.89 208.94L26.95 208.94M26.95 210.35L26.95 207.18M19.54 202.23L19.89 203.29L20.95 204.00L22.71 204.35L23.77 204.35L25.54 204.00L26.60 203.29L26.95 202.23L26.95 201.53L26.60 200.47L25.54 199.76L23.77 199.41L22.71 199.41L20.95 199.76L19.89 200.47L19.54 201.53L19.54 202.23M19.54 202.23L19.89 202.94L20.24 203.29L20.95 203.65L22.71 204.00L23.77 204.00L25.54 203.65L26.24 203.29L26.60 202.94L26.95 202.23M26.95 201.53L26.60 200.82L26.24 200.47L25.54 200.12L23.77 199.76L22.71 199.76L20.95 200.12L20.24 200.47L19.89 200.82L19.54 201.53"/>
<path d="M383.17 96.01L383.17 89.37M379.54 86.34L383.07 87.04M383.07 87.04L382.36 86.34L382.01 85.28L382.01 84.22L382.36 83.16L383.07 82.45L384.13 82.10L384.83 82.10L385.89 82.45L386.60 83.16L386.95 84.22L386.95 85.28L386.60 86.34L386.24 86.69L385.54 87.04L385.19 87.04L384.83 86.69L385.19 86.34L385.54 86.69M382.01 84.22L382.36 83.51L383.07 82.81L384.13 82.45L384.83 82.45L385.89 82.81L386.60 83.51L386.95 84.22M379.54 86.34L379.54 82.81M379.89 86.34L379.89 84.57L379.54 82.81"/>
<path d="M383.17 188.98L383.17 182.34M380.95 178.95L380.60 178.25L379.54 177.19L386.95 177.19M379.89 177.54L386.95 177.54M386.95 178.95L386.95 175.78M379.54 170.83L379.89 171.89L380.95 172.60L382.71 172.95L383.77 172.95L385.54 172.60L386.60 171.89L386.95 170.83L386.95 170.13L386.60 169.07L385.54 168.36L383.77 168.01L382.71 168.01L380.95 168.36L379.89 169.07L379.54 170.13L379.54 170.83M379.54 170.83L379.89 171.54L380.24 171.89L380.95 172.25L382.71 172.60L383.77 172.60L385.54 172.25L386.24 171.89L386.60 171.54L386.95 170.83M386.95 170.13L386.60 169.42L386.24 169.07L385.54 168.72L383.77 168.36L382.71 168.36L380.95 168.72L380.24 169.07L379.89 169.42L379.54 170.13"/>
<path d="M2.34 223.44L9.75 223.44M2.34 223.08L9.75 223.08M2.34 224.49L2.34 223.08M9.75 224.49L9.75 222.02M4.81 218.14L5.16 219.20L5.87 219.91L6.93 220.26L7.63 220.26L8.69 219.91L9.40 219.20L9.75 218.14L9.75 217.43L9.40 216.38L8.69 215.67L7.63 215.32L6.93 215.32L5.87 215.67L5.16 216.38L4.81 217.43L4.81 218.14M4.81 218.14L5.16 218.85L5.87 219.55L6.93 219.91L7.63 219.91L8.69 219.55L9.40 218.85L9.75 218.14M9.75 217.43L9.40 216.73L8.69 216.02L7.63 215.67L6.93 215.67L5.87 216.02L5.16 216.73L4.81 217.43M4.81 211.43L5.16 212.14L5.51 212.49L6.22 212.84L6.93 212.84L7.63 212.49L7.99 212.14L8.34 211.43L8.34 210.73L7.99 210.02L7.63 209.67L6.93 209.31L6.22 209.31L5.51 209.67L5.16 210.02L4.81 210.73L4.81 211.43M5.16 212.14L5.87 212.49L7.28 212.49L7.99 212.14M7.99 210.02L7.28 209.67L5.87 209.67L5.16 210.02M5.51 209.67L5.16 209.31L4.81 208.61L5.16 208.61L5.16 209.31M7.63 212.49L7.99 212.84L8.69 213.20L9.04 213.20L9.75 212.84L10.10 211.79L10.10 210.02L10.46 208.96L10.81 208.61M9.04 213.20L9.40 212.84L9.75 211.79L9.75 210.02L10.10 208.96L10.81 208.61L11.16 208.61L11.87 208.96L12.22 210.02L12.22 212.14L11.87 213.20L11.16 213.55L10.81 213.55L10.10 213.20L9.75 212.14M9.96 205.93L9.69 205.39L8.88 204.58L14.55 204.58M9.15 204.85L14.55 204.85M14.55 205.93L14.55 203.50M8.88 199.72L9.15 200.53L9.96 201.07L11.31 201.34L12.12 201.34L13.47 201.07L14.28 200.53L14.55 199.72L14.55 199.18L14.28 198.37L13.47 197.83L12.12 197.56L11.31 197.56L9.96 197.83L9.15 198.37L8.88 199.18L8.88 199.72M8.88 199.72L9.15 200.26L9.42 200.53L9.96 200.80L11.31 201.07L12.12 201.07L13.47 200.80L14.01 200.53L14.28 200.26L14.55 199.72M14.55 199.18L14.28 198.64L14.01 198.37L13.47 198.10L12.12 197.83L11.31 197.83L9.96 198.10L9.42 198.37L9.15 198.64L8.88 199.18M0.93 187.22L1.63 187.92L2.69 188.63L4.10 189.34L5.87 189.69L7.28 189.69L9.04 189.34L10.46 188.63L11.52 187.92L12.22 187.22M1.63 187.92L3.04 188.63L4.10 188.98L5.87 189.34L7.28 189.34L9.04 188.98L10.10 188.63L11.52 187.92M3.40 174.51L4.46 174.16L2.34 174.16L3.40 174.51L2.69 175.22L2.34 176.27L2.34 176.98L2.69 178.04L3.40 178.75L4.10 179.10L5.16 179.45L6.93 179.45L7.99 179.10L8.69 178.75L9.40 178.04L9.75 176.98L9.75 176.27L9.40 175.22L8.69 174.51L7.99 174.16M2.34 176.98L2.69 177.69L3.40 178.39L4.10 178.75L5.16 179.10L6.93 179.10L7.99 178.75L8.69 178.39L9.40 177.69L9.75 176.98M4.81 171.33L8.69 171.33L9.40 170.98L9.75 169.92L9.75 169.21L9.40 168.16L8.69 167.45M4.81 170.98L8.69 170.98L9.40 170.63L9.75 169.92M4.81 167.45L9.75 167.45M4.81 167.10L9.75 167.10M4.81 172.39L4.81 170.98M4.81 168.51L4.81 167.10M9.75 167.45L9.75 166.04M4.81 163.57L9.75 163.57M4.81 163.21L9.75 163.21M5.87 163.21L5.16 162.51L4.81 161.45L4.81 160.74L5.16 159.68L5.87 159.33L9.75 159.33M4.81 160.74L5.16 160.04L5.87 159.68L9.75 159.68M5.87 159.33L5.16 158.62L4.81 157.57L4.81 156.86L5.16 155.80L5.87 155.45L9.75 155.45M4.81 156.86L5.16 156.15L5.87 155.80L9.75 155.80M4.81 164.63L4.81 163.21M9.75 164.63L9.75 162.15M9.75 160.74L9.75 158.27M9.75 156.86L9.75 154.39M4.81 151.92L8.69 151.92L9.40 151.56L9.75 150.51L9.75 149.80L9.40 148.74L8.69 148.03M4.81 151.56L8.69 151.56L9.40 151.21L9.75 150.51M4.81 148.03L9.75 148.03M4.81 147.68L9.75 147.68M4.81 152.98L4.81 151.56M4.81 149.09L4.81 147.68M9.75 148.03L9.75 146.62M2.34 144.15L9.75 144.15M2.34 143.80L9.75 143.80M2.34 145.21L2.34 143.80M9.75 145.21L9.75 142.74M5.51 140.27L5.87 140.27L5.87 140.62L5.51 140.62L5.16 140.27L4.81 139.56L4.81 138.15L5.16 137.44L5.51 137.09L6.22 136.74L8.69 136.74L9.40 136.39L9.75 136.03M5.51 137.09L8.69 137.09L9.40 136.74L9.75 136.03L9.75 135.68M6.22 137.09L6.57 137.44L6.93 139.56L7.28 140.62L7.99 140.97L8.69 140.97L9.40 140.62L9.75 139.56L9.75 138.50L9.40 137.80L8.69 137.09M6.93 139.56L7.28 140.27L7.99 140.62L8.69 140.62L9.40 140.27L9.75 139.56M2.34 133.21L8.34 133.21L9.40 132.86L9.75 132.15L9.75 131.44L9.40 130.74L8.69 130.38M2.34 132.86L8.34 132.86L9.40 132.50L9.75 132.15M4.81 134.27L4.81 131.44M2.34 127.91L2.69 128.27L3.04 127.91L2.69 127.56L2.34 127.91M4.81 127.91L9.75 127.91M4.81 127.56L9.75 127.56M4.81 128.97L4.81 127.56M9.75 128.97L9.75 126.50M4.81 124.74L9.75 122.62M4.81 124.38L9.04 122.62M4.81 120.50L9.75 122.62M4.81 125.44L4.81 123.32M4.81 121.91L4.81 119.79M6.93 118.03L6.93 113.79L6.22 113.79L5.51 114.15L5.16 114.50L4.81 115.21L4.81 116.26L5.16 117.32L5.87 118.03L6.93 118.38L7.63 118.38L8.69 118.03L9.40 117.32L9.75 116.26L9.75 115.56L9.40 114.50L8.69 113.79M6.93 114.15L5.87 114.15L5.16 114.50M4.81 116.26L5.16 116.97L5.87 117.68L6.93 118.03L7.63 118.03L8.69 117.68L9.40 116.97L9.75 116.26M5.51 102.50L4.81 102.14L6.22 102.14L5.51 102.50L5.16 102.85L4.81 103.56L4.81 104.97L5.16 105.67L5.51 106.03L6.22 106.03L6.57 105.67L6.93 104.97L7.63 103.20L7.99 102.50L8.34 102.14M5.87 106.03L6.22 105.67L6.57 104.97L7.28 103.20L7.63 102.50L7.99 102.14L9.04 102.14L9.40 102.50L9.75 103.20L9.75 104.62L9.40 105.32L9.04 105.67L8.34 106.03L9.75 106.03L9.04 105.67M4.81 97.91L5.16 98.97L5.87 99.67L6.93 100.03L7.63 100.03L8.69 99.67L9.40 98.97L9.75 97.91L9.75 97.20L9.40 96.14L8.69 95.44L7.63 95.08L6.93 95.08L5.87 95.44L5.16 96.14L4.81 97.20L4.81 97.91M4.81 97.91L5.16 98.61L5.87 99.32L6.93 99.67L7.63 99.67L8.69 99.32L9.40 98.61L9.75 97.91M9.75 97.20L9.40 96.50L8.69 95.79L7.63 95.44L6.93 95.44L5.87 95.79L5.16 96.50L4.81 97.20M4.81 92.26L8.69 92.26L9.40 91.91L9.75 90.85L9.75 90.14L9.40 89.08L8.69 88.38M4.81 91.91L8.69 91.91L9.40 91.55L9.75 90.85M4.81 88.38L9.75 88.38M4.81 88.02L9.75 88.02M4.81 93.32L4.81 91.91M4.81 89.44L4.81 88.02M9.75 88.38L9.75 86.97M4.81 84.49L9.75 84.49M4.81 84.14L9.75 84.14M6.93 84.14L5.87 83.79L5.16 83.08L4.81 82.38L4.81 81.32L5.16 80.96L5.51 80.96L5.87 81.32L5.51 81.67L5.16 81.32M4.81 85.55L4.81 84.14M9.75 85.55L9.75 83.08M5.87 74.96L6.22 75.32L6.57 74.96L6.22 74.61L5.87 74.61L5.16 75.32L4.81 76.02L4.81 77.08L5.16 78.14L5.87 78.85L6.93 79.20L7.63 79.20L8.69 78.85L9.40 78.14L9.75 77.08L9.75 76.38L9.40 75.32L8.69 74.61M4.81 77.08L5.16 77.79L5.87 78.49L6.93 78.85L7.63 78.85L8.69 78.49L9.40 77.79L9.75 77.08M6.93 72.14L6.93 67.90L6.22 67.90L5.51 68.26L5.16 68.61L4.81 69.32L4.81 70.37L5.16 71.43L5.87 72.14L6.93 72.49L7.63 72.49L8.69 72.14L9.40 71.43L9.75 70.37L9.75 69.67L9.40 68.61L8.69 67.90M6.93 68.26L5.87 68.26L5.16 68.61M4.81 70.37L5.16 71.08L5.87 71.79L6.93 72.14L7.63 72.14L8.69 71.79L9.40 71.08L9.75 70.37M5.87 55.90L6.22 56.25L6.57 55.90L6.22 55.55L5.87 55.55L5.16 56.25L4.81 56.96L4.81 58.02L5.16 59.08L5.87 59.78L6.93 60.14L7.63 60.14L8.69 59.78L9.40 59.08L9.75 58.02L9.75 57.31L9.40 56.25L8.69 55.55M4.81 58.02L5.16 58.73L5.87 59.43L6.93 59.78L7.63 59.78L8.69 59.43L9.40 58.73L9.75 58.02M4.81 51.31L5.16 52.37L5.87 53.08L6.93 53.43L7.63 53.43L8.69 53.08L9.40 52.37L9.75 51.31L9.75 50.61L9.40 49.55L8.69 48.84L7.63 48.49L6.93 48.49L5.87 48.84L5.16 49.55L4.81 50.61L4.81 51.31M4.81 51.31L5.16 52.02L5.87 52.72L6.93 53.08L7.63 53.08L8.69 52.72L9.40 52.02L9.75 51.31M9.75 50.61L9.40 49.90L8.69 49.19L7.63 48.84L6.93 48.84L5.87 49.19L5.16 49.90L4.81 50.61M4.81 45.66L8.69 45.66L9.40 45.31L9.75 44.25L9.75 43.55L9.40 42.49L8.69 41.78M4.81 45.31L8.69 45.31L9.40 44.96L9.75 44.25M4.81 41.78L9.75 41.78M4.81 41.43L9.75 41.43M4.81 46.72L4.81 45.31M4.81 42.84L4.81 41.43M9.75 41.78L9.75 40.37M4.81 37.90L9.75 37.90M4.81 37.55L9.75 37.55M5.87 37.55L5.16 36.84L4.81 35.78L4.81 35.07L5.16 34.02L5.87 33.66L9.75 33.66M4.81 35.07L5.16 34.37L5.87 34.02L9.75 34.02M4.81 38.96L4.81 37.55M9.75 38.96L9.75 36.49M9.75 35.07L9.75 32.60M2.34 30.13L8.34 30.13L9.40 29.78L9.75 29.07L9.75 28.37L9.40 27.66L8.69 27.31M2.34 29.78L8.34 29.78L9.40 29.43L9.75 29.07M4.81 31.19L4.81 28.37M5.51 22.01L4.81 21.66L6.22 21.66L5.51 22.01L5.16 22.37L4.81 23.07L4.81 24.48L5.16 25.19L5.51 25.54L6.22 25.54L6.57 25.19L6.93 24.48L7.63 22.72L7.99 22.01L8.34 21.66M5.87 25.54L6.22 25.19L6.57 24.48L7.28 22.72L7.63 22.01L7.99 21.66L9.04 21.66L9.40 22.01L9.75 22.72L9.75 24.13L9.40 24.84L9.04 25.19L8.34 25.54L9.75 25.54L9.04 25.19M0.93 13.89L1.63 13.19L2.69 12.48L4.10 11.78L5.87 11.42L7.28 11.42L9.04 11.78L10.46 12.48L11.52 13.19L12.22 13.89M1.63 13.19L3.04 12.48L4.10 12.13L5.87 11.78L7.28 11.78L9.04 12.13L10.10 12.48L11.52 13.19"/>
<path d="M362.39 231.09L369.80 231.09M362.39 230.73L369.80 230.73M362.39 232.14L362.39 230.73M369.80 232.14L369.80 229.67M364.86 225.79L365.21 226.85L365.92 227.56L366.98 227.91L367.68 227.91L368.74 227.56L369.45 226.85L369.80 225.79L369.80 225.08L369.45 224.03L368.74 223.32L367.68 222.97L366.98 222.97L365.92 223.32L365.21 224.03L364.86 225.08L364.86 225.79M364.86 225.79L365.21 226.50L365.92 227.20L366.98 227.56L367.68 227.56L368.74 227.20L369.45 226.50L369.80 225.79M369.80 225.08L369.45 224.38L368.74 223.67L367.68 223.32L366.98 223.32L365.92 223.67L365.21 224.38L364.86 225.08M364.86 219.08L365.21 219.79L365.56 220.14L366.27 220.50L366.98 220.50L367.68 220.14L368.04 219.79L368.39 219.08L368.39 218.38L368.04 217.67L367.68 217.32L366.98 216.97L366.27 216.97L365.56 217.32L365.21 217.67L364.86 218.38L364.86 219.08M365.21 219.79L365.92 220.14L367.33 220.14L368.04 219.79M368.04 217.67L367.33 217.32L365.92 217.32L365.21 217.67M365.56 217.32L365.21 216.97L364.86 216.26L365.21 216.26L365.21 216.97M367.68 220.14L368.04 220.50L368.74 220.85L369.09 220.85L369.80 220.50L370.15 219.44L370.15 217.67L370.51 216.61L370.86 216.26M369.09 220.85L369.45 220.50L369.80 219.44L369.80 217.67L370.15 216.61L370.86 216.26L371.21 216.26L371.92 216.61L372.27 217.67L372.27 219.79L371.92 220.85L371.21 221.20L370.86 221.20L370.15 220.85L369.80 219.79M370.01 213.58L369.74 213.04L368.93 212.23L374.60 212.23M369.20 212.50L374.60 212.50M374.60 213.58L374.60 211.15M368.93 207.37L369.20 208.18L370.01 208.72L371.36 208.99L372.17 208.99L373.52 208.72L374.33 208.18L374.60 207.37L374.60 206.83L374.33 206.02L373.52 205.48L372.17 205.21L371.36 205.21L370.01 205.48L369.20 206.02L368.93 206.83L368.93 207.37M368.93 207.37L369.20 207.91L369.47 208.18L370.01 208.45L371.36 208.72L372.17 208.72L373.52 208.45L374.06 208.18L374.33 207.91L374.60 207.37M374.60 206.83L374.33 206.29L374.06 206.02L373.52 205.75L372.17 205.48L371.36 205.48L370.01 205.75L369.47 206.02L369.20 206.29L368.93 206.83M360.98 194.87L361.68 195.57L362.74 196.28L364.15 196.99L365.92 197.34L367.33 197.34L369.09 196.99L370.51 196.28L371.56 195.57L372.27 194.87M361.68 195.57L363.09 196.28L364.15 196.63L365.92 196.99L367.33 196.99L369.09 196.63L370.15 196.28L371.56 195.57M363.45 182.16L364.50 181.81L362.39 181.81L363.45 182.16L362.74 182.87L362.39 183.92L362.39 184.63L362.74 185.69L363.45 186.40L364.15 186.75L365.21 187.10L366.98 187.10L368.04 186.75L368.74 186.40L369.45 185.69L369.80 184.63L369.80 183.92L369.45 182.87L368.74 182.16L368.04 181.81M362.39 184.63L362.74 185.34L363.45 186.04L364.15 186.40L365.21 186.75L366.98 186.75L368.04 186.40L368.74 186.04L369.45 185.34L369.80 184.63M364.86 178.98L368.74 178.98L369.45 178.63L369.80 177.57L369.80 176.86L369.45 175.81L368.74 175.10M364.86 178.63L368.74 178.63L369.45 178.28L369.80 177.57M364.86 175.10L369.80 175.10M364.86 174.75L369.80 174.75M364.86 180.04L364.86 178.63M364.86 176.16L364.86 174.75M369.80 175.10L369.80 173.69M364.86 171.22L369.80 171.22M364.86 170.86L369.80 170.86M365.92 170.86L365.21 170.16L364.86 169.10L364.86 168.39L365.21 167.33L365.92 166.98L369.80 166.98M364.86 168.39L365.21 167.69L365.92 167.33L369.80 167.33M365.92 166.98L365.21 166.27L364.86 165.22L364.86 164.51L365.21 163.45L365.92 163.10L369.80 163.10M364.86 164.51L365.21 163.80L365.92 163.45L369.80 163.45M364.86 172.28L364.86 170.86M369.80 172.28L369.80 169.80M369.80 168.39L369.80 165.92M369.80 164.51L369.80 162.04M364.86 159.57L368.74 159.57L369.45 159.21L369.80 158.16L369.80 157.45L369.45 156.39L368.74 155.68M364.86 159.21L368.74 159.21L369.45 158.86L369.80 158.16M364.86 155.68L369.80 155.68M364.86 155.33L369.80 155.33M364.86 160.63L364.86 159.21M364.86 156.74L364.86 155.33M369.80 155.68L369.80 154.27M362.39 151.80L369.80 151.80M362.39 151.45L369.80 151.45M362.39 152.86L362.39 151.45M369.80 152.86L369.80 150.39M365.56 147.92L365.92 147.92L365.92 148.27L365.56 148.27L365.21 147.92L364.86 147.21L364.86 145.80L365.21 145.09L365.56 144.74L366.27 144.39L368.74 144.39L369.45 144.04L369.80 143.68M365.56 144.74L368.74 144.74L369.45 144.39L369.80 143.68L369.80 143.33M366.27 144.74L366.62 145.09L366.98 147.21L367.33 148.27L368.04 148.62L368.74 148.62L369.45 148.27L369.80 147.21L369.80 146.15L369.45 145.45L368.74 144.74M366.98 147.21L367.33 147.92L368.04 148.27L368.74 148.27L369.45 147.92L369.80 147.21M362.39 140.86L368.39 140.86L369.45 140.51L369.80 139.80L369.80 139.09L369.45 138.39L368.74 138.03M362.39 140.51L368.39 140.51L369.45 140.15L369.80 139.80M364.86 141.92L364.86 139.09M362.39 135.56L362.74 135.92L363.09 135.56L362.74 135.21L362.39 135.56M364.86 135.56L369.80 135.56M364.86 135.21L369.80 135.21M364.86 136.62L364.86 135.21M369.80 136.62L369.80 134.15M364.86 132.39L369.80 130.27M364.86 132.03L369.09 130.27M364.86 128.15L369.80 130.27M364.86 133.09L364.86 130.97M364.86 129.56L364.86 127.44M366.98 125.68L366.98 121.44L366.27 121.44L365.56 121.80L365.21 122.15L364.86 122.86L364.86 123.91L365.21 124.97L365.92 125.68L366.98 126.03L367.68 126.03L368.74 125.68L369.45 124.97L369.80 123.91L369.80 123.21L369.45 122.15L368.74 121.44M366.98 121.80L365.92 121.80L365.21 122.15M364.86 123.91L365.21 124.62L365.92 125.33L366.98 125.68L367.68 125.68L368.74 125.33L369.45 124.62L369.80 123.91M366.98 113.32L366.98 109.09L366.27 109.09L365.56 109.44L365.21 109.79L364.86 110.50L364.86 111.56L365.21 112.62L365.92 113.32L366.98 113.68L367.68 113.68L368.74 113.32L369.45 112.62L369.80 111.56L369.80 110.85L369.45 109.79L368.74 109.09M366.98 109.44L365.92 109.44L365.21 109.79M364.86 111.56L365.21 112.27L365.92 112.97L366.98 113.32L367.68 113.32L368.74 112.97L369.45 112.27L369.80 111.56M364.86 106.97L369.80 104.85M364.86 106.62L369.09 104.85M364.86 102.73L369.80 104.85M364.86 107.68L364.86 105.56M364.86 104.15L364.86 102.03M366.98 100.26L366.98 96.03L366.27 96.03L365.56 96.38L365.21 96.73L364.86 97.44L364.86 98.50L365.21 99.56L365.92 100.26L366.98 100.62L367.68 100.62L368.74 100.26L369.45 99.56L369.80 98.50L369.80 97.79L369.45 96.73L368.74 96.03M366.98 96.38L365.92 96.38L365.21 96.73M364.86 98.50L365.21 99.20L365.92 99.91L366.98 100.26L367.68 100.26L368.74 99.91L369.45 99.20L369.80 98.50M364.86 93.20L369.80 93.20M364.86 92.85L369.80 92.85M365.92 92.85L365.21 92.14L364.86 91.09L364.86 90.38L365.21 89.32L365.92 88.97L369.80 88.97M364.86 90.38L365.21 89.67L365.92 89.32L369.80 89.32M364.86 94.26L364.86 92.85M369.80 94.26L369.80 91.79M369.80 90.38L369.80 87.91M362.39 85.44L368.39 85.44L369.45 85.08L369.80 84.38L369.80 83.67L369.45 82.97L368.74 82.61M362.39 85.08L368.39 85.08L369.45 84.73L369.80 84.38M364.86 86.50L364.86 83.67M364.86 74.49L369.80 74.49M364.86 74.14L369.80 74.14M366.98 74.14L365.92 73.79L365.21 73.08L364.86 72.38L364.86 71.32L365.21 70.96L365.56 70.96L365.92 71.32L365.56 71.67L365.21 71.32M364.86 75.55L364.86 74.14M369.80 75.55L369.80 73.08M365.56 68.49L365.92 68.49L365.92 68.85L365.56 68.85L365.21 68.49L364.86 67.79L364.86 66.38L365.21 65.67L365.56 65.32L366.27 64.96L368.74 64.96L369.45 64.61L369.80 64.26M365.56 65.32L368.74 65.32L369.45 64.96L369.80 64.26L369.80 63.90M366.27 65.32L366.62 65.67L366.98 67.79L367.33 68.85L368.04 69.20L368.74 69.20L369.45 68.85L369.80 67.79L369.80 66.73L369.45 66.02L368.74 65.32M366.98 67.79L367.33 68.49L368.04 68.85L368.74 68.85L369.45 68.49L369.80 67.79M362.39 61.43L368.39 61.43L369.45 61.08L369.80 60.37L369.80 59.67L369.45 58.96L368.74 58.61M362.39 61.08L368.39 61.08L369.45 60.73L369.80 60.37M364.86 62.49L364.86 59.67M366.98 56.49L366.98 52.26L366.27 52.26L365.56 52.61L365.21 52.96L364.86 53.67L364.86 54.73L365.21 55.79L365.92 56.49L366.98 56.84L367.68 56.84L368.74 56.49L369.45 55.79L369.80 54.73L369.80 54.02L369.45 52.96L368.74 52.26M366.98 52.61L365.92 52.61L365.21 52.96M364.86 54.73L365.21 55.43L365.92 56.14L366.98 56.49L367.68 56.49L368.74 56.14L369.45 55.43L369.80 54.73M360.98 41.91L361.68 42.62L362.74 43.32L364.15 44.03L365.92 44.38L367.33 44.38L369.09 44.03L370.51 43.32L371.56 42.62L372.27 41.91M361.68 42.62L363.09 43.32L364.15 43.68L365.92 44.03L367.33 44.03L369.09 43.68L370.15 43.32L371.56 42.62M364.86 38.91L369.80 36.79M364.86 38.56L369.09 36.79M364.86 34.68L369.80 36.79L371.21 37.50L371.92 38.21L372.27 38.91L372.27 39.26L371.92 39.62L371.56 39.26L371.92 38.91M364.86 39.62L364.86 37.50M364.86 36.09L364.86 33.97M364.86 31.85L369.80 31.85M364.86 31.50L369.80 31.50M366.98 31.50L365.92 31.15L365.21 30.44L364.86 29.73L364.86 28.67L365.21 28.32L365.56 28.32L365.92 28.67L365.56 29.03L365.21 28.67M364.86 32.91L364.86 31.50M369.80 32.91L369.80 30.44M361.41 26.64L361.41 21.57M359.71 18.97L359.44 18.43L358.63 17.62L364.30 17.62M358.90 17.89L364.30 17.89M364.30 18.97L364.30 16.54M360.98 14.13L361.68 13.43L362.74 12.72L364.15 12.02L365.92 11.66L367.33 11.66L369.09 12.02L370.51 12.72L371.56 13.43L372.27 14.13M361.68 13.43L363.09 12.72L364.15 12.37L365.92 12.02L367.33 12.02L369.09 12.37L370.15 12.72L371.56 13.43M360.98 3.54L361.68 2.84L362.74 2.13L364.15 1.43L365.92 1.07L367.33 1.07L369.09 1.43L370.51 2.13L371.56 2.84L372.27 3.54M361.68 2.84L363.09 2.13L364.15 1.78L365.92 1.43L367.33 1.43L369.09 1.78L370.15 2.13L371.56 2.84"/>
<path d="M244.20 46.35L244.55 47.41L244.55 45.29L244.20 46.35L243.49 45.64L242.44 45.29L241.73 45.29L240.67 45.64L239.96 46.35L239.61 47.05L239.26 48.11L239.26 49.88L239.61 50.94L239.96 51.64L240.67 52.35L241.73 52.70L242.44 52.70L243.49 52.35L244.20 51.64L244.55 50.94M241.73 45.29L241.02 45.64L240.32 46.35L239.96 47.05L239.61 48.11L239.61 49.88L239.96 50.94L240.32 51.64L241.02 52.35L241.73 52.70M247.02 45.29L248.44 52.70M247.38 45.29L248.44 50.94M249.85 45.29L248.44 52.70M249.85 45.29L251.26 52.70M250.20 45.29L251.26 50.94M252.67 45.29L251.26 52.70M245.97 45.29L248.44 45.29M251.61 45.29L253.73 45.29M258.67 48.46L259.03 47.76L259.03 49.17L258.67 48.46L258.32 48.11L257.62 47.76L256.20 47.76L255.50 48.11L255.14 48.46L255.14 49.17L255.50 49.52L256.20 49.88L257.97 50.58L258.67 50.94L259.03 51.29M255.14 48.82L255.50 49.17L256.20 49.52L257.97 50.23L258.67 50.58L259.03 50.94L259.03 51.99L258.67 52.35L257.97 52.70L256.56 52.70L255.85 52.35L255.50 51.99L255.14 51.29L255.14 52.70L255.50 51.99M267.50 48.46L267.50 48.82L267.15 48.82L267.15 48.46L267.50 48.11L268.20 47.76L269.62 47.76L270.32 48.11L270.68 48.46L271.03 49.17L271.03 51.64L271.38 52.35L271.74 52.70M270.68 48.46L270.68 51.64L271.03 52.35L271.74 52.70L272.09 52.70M270.68 49.17L270.32 49.52L268.20 49.88L267.15 50.23L266.79 50.94L266.79 51.64L267.15 52.35L268.20 52.70L269.26 52.70L269.97 52.35L270.68 51.64M268.20 49.88L267.50 50.23L267.15 50.94L267.15 51.64L267.50 52.35L268.20 52.70M274.56 45.29L274.56 51.29L274.91 52.35L275.62 52.70L276.32 52.70L277.03 52.35L277.38 51.64M274.91 45.29L274.91 51.29L275.26 52.35L275.62 52.70M273.50 47.76L276.32 47.76M287.27 45.64L286.91 45.99L287.27 46.35L287.62 45.99L287.62 45.64L287.27 45.29L286.56 45.29L285.85 45.64L285.50 46.35L285.50 52.70M286.56 45.29L286.21 45.64L285.85 46.35L285.85 52.70M284.44 47.76L287.27 47.76M284.44 52.70L286.91 52.70M289.41 53.72L291.03 57.50M289.68 53.72L291.03 56.96M292.65 53.72L291.03 57.50L290.49 58.58L289.95 59.12L289.41 59.39L289.14 59.39L288.87 59.12L289.14 58.85L289.41 59.12M288.87 53.72L290.49 53.72M291.57 53.72L293.19 53.72M294.81 53.72L294.81 57.50M295.08 53.72L295.08 57.50M295.08 55.34L295.35 54.53L295.89 53.99L296.43 53.72L297.24 53.72L297.51 53.99L297.51 54.26L297.24 54.53L296.97 54.26L297.24 53.99M294.00 53.72L295.08 53.72M294.00 57.50L295.89 57.50"/>
<path d="M598.30 48.65L598.65 49.70L598.65 47.59L598.30 48.65L597.59 47.94L596.54 47.59L595.83 47.59L594.77 47.94L594.06 48.65L593.71 49.35L593.36 50.41L593.36 52.18L593.71 53.23L594.06 53.94L594.77 54.65L595.83 55.00L596.54 55.00L597.59 54.65L598.30 53.94M595.83 47.59L595.12 47.94L594.42 48.65L594.06 49.35L593.71 50.41L593.71 52.18L594.06 53.23L594.42 53.94L595.12 54.65L595.83 55.00M598.30 52.18L598.30 55.00M598.65 52.18L598.65 55.00M597.24 52.18L599.71 52.18M601.83 47.59L603.24 55.00M602.18 47.59L603.24 53.23M604.65 47.59L603.24 55.00M604.65 47.59L606.07 55.00M605.01 47.59L606.07 53.23M607.48 47.59L606.07 55.00M600.77 47.59L603.24 47.59M606.42 47.59L608.54 47.59M616.30 50.06L616.30 55.00M616.66 50.06L616.66 55.00M616.66 51.12L617.36 50.41L618.42 50.06L619.13 50.06L620.19 50.41L620.54 51.12L620.54 55.00M619.13 50.06L619.83 50.41L620.19 51.12L620.19 55.00M620.54 51.12L621.25 50.41L622.30 50.06L623.01 50.06L624.07 50.41L624.42 51.12L624.42 55.00M623.01 50.06L623.72 50.41L624.07 51.12L624.07 55.00M615.25 50.06L616.66 50.06M615.25 55.00L617.72 55.00M619.13 55.00L621.60 55.00M623.01 55.00L625.48 55.00M627.60 52.18L631.84 52.18L631.84 51.47L631.48 50.76L631.13 50.41L630.42 50.06L629.37 50.06L628.31 50.41L627.60 51.12L627.25 52.18L627.25 52.88L627.60 53.94L628.31 54.65L629.37 55.00L630.07 55.00L631.13 54.65L631.84 53.94M631.48 52.18L631.48 51.12L631.13 50.41M629.37 50.06L628.66 50.41L627.95 51.12L627.60 52.18L627.60 52.88L627.95 53.94L628.66 54.65L629.37 55.00M634.66 50.06L634.66 55.00M635.01 50.06L635.01 55.00M635.01 51.12L635.72 50.41L636.78 50.06L637.48 50.06L638.54 50.41L638.90 51.12L638.90 55.00M637.48 50.06L638.19 50.41L638.54 51.12L638.54 55.00M638.90 51.12L639.60 50.41L640.66 50.06L641.37 50.06L642.43 50.41L642.78 51.12L642.78 55.00M641.37 50.06L642.07 50.41L642.43 51.12L642.43 55.00M633.60 50.06L635.01 50.06M633.60 55.00L636.07 55.00M637.48 55.00L639.95 55.00M641.37 55.00L643.84 55.00M647.72 50.06L646.66 50.41L645.96 51.12L645.60 52.18L645.60 52.88L645.96 53.94L646.66 54.65L647.72 55.00L648.43 55.00L649.49 54.65L650.19 53.94L650.54 52.88L650.54 52.18L650.19 51.12L649.49 50.41L648.43 50.06L647.72 50.06M647.72 50.06L647.01 50.41L646.31 51.12L645.96 52.18L645.96 52.88L646.31 53.94L647.01 54.65L647.72 55.00M648.43 55.00L649.13 54.65L649.84 53.94L650.19 52.88L650.19 52.18L649.84 51.12L649.13 50.41L648.43 50.06M653.37 50.06L653.37 55.00M653.72 50.06L653.72 55.00M653.72 52.18L654.07 51.12L654.78 50.41L655.49 50.06L656.55 50.06L656.90 50.41L656.90 50.76L656.55 51.12L656.19 50.76L656.55 50.41M652.31 50.06L653.72 50.06M652.31 55.00L654.78 55.00M659.02 50.06L661.13 55.00M659.37 50.06L661.13 54.29M663.25 50.06L661.13 55.00L660.43 56.41L659.72 57.12L659.02 57.47L658.66 57.47L658.31 57.12L658.66 56.77L659.02 57.12M658.31 50.06L660.43 50.06M661.84 50.06L663.96 50.06"/>
<path d="M175.26 247.39L175.26 254.80M175.62 247.39L175.62 254.80M175.62 250.92L176.32 250.21L177.38 249.86L178.09 249.86L179.15 250.21L179.50 250.92L179.50 254.80M178.09 249.86L178.79 250.21L179.15 250.92L179.15 254.80M174.21 247.39L175.62 247.39M174.21 254.80L176.68 254.80M178.09 254.80L180.56 254.80M184.78 256.36L185.05 255.82L185.05 256.90L184.78 256.36L184.51 256.09L183.97 255.82L182.89 255.82L182.35 256.09L182.08 256.36L182.08 256.90L182.35 257.17L182.89 257.44L184.24 257.98L184.78 258.25L185.05 258.52M182.08 256.63L182.35 256.90L182.89 257.17L184.24 257.71L184.78 257.98L185.05 258.25L185.05 259.06L184.78 259.33L184.24 259.60L183.16 259.60L182.62 259.33L182.35 259.06L182.08 258.52L182.08 259.60L182.35 259.06"/>
<path d="M527.91 247.54L527.91 254.95M528.27 247.54L528.27 254.95M528.27 251.07L528.97 250.36L530.03 250.01L530.74 250.01L531.80 250.36L532.15 251.07L532.15 254.95M530.74 250.01L531.44 250.36L531.80 251.07L531.80 254.95M526.86 247.54L528.27 247.54M526.86 254.95L529.33 254.95M530.74 254.95L533.21 254.95M535.27 255.97L535.27 259.75M535.54 255.97L535.54 259.75M535.54 256.78L536.08 256.24L536.89 255.97L537.43 255.97L538.24 256.24L538.51 256.78L538.51 259.75M537.43 255.97L537.97 256.24L538.24 256.78L538.24 259.75M538.51 256.78L539.05 256.24L539.86 255.97L540.40 255.97L541.21 256.24L541.48 256.78L541.48 259.75M540.40 255.97L540.94 256.24L541.21 256.78L541.21 259.75M534.46 255.97L535.54 255.97M534.46 259.75L536.35 259.75M537.43 259.75L539.32 259.75M540.40 259.75L542.29 259.75M543.91 257.59L547.15 257.59L547.15 257.05L546.88 256.51L546.61 256.24L546.07 255.97L545.26 255.97L544.45 256.24L543.91 256.78L543.64 257.59L543.64 258.13L543.91 258.94L544.45 259.48L545.26 259.75L545.80 259.75L546.61 259.48L547.15 258.94M546.88 257.59L546.88 256.78L546.61 256.24M545.26 255.97L544.72 256.24L544.18 256.78L543.91 257.59L543.91 258.13L544.18 258.94L544.72 259.48L545.26 259.75M549.31 255.97L549.31 259.75M549.58 255.97L549.58 259.75M549.58 256.78L550.12 256.24L550.93 255.97L551.47 255.97L552.28 256.24L552.55 256.78L552.55 259.75M551.47 255.97L552.01 256.24L552.28 256.78L552.28 259.75M552.55 256.78L553.09 256.24L553.90 255.97L554.44 255.97L555.25 256.24L555.52 256.78L555.52 259.75M554.44 255.97L554.98 256.24L555.25 256.78L555.25 259.75M548.50 255.97L549.58 255.97M548.50 259.75L550.39 259.75M551.47 259.75L553.36 259.75M554.44 259.75L556.33 259.75"/></g>
</svg>
</body></html>
